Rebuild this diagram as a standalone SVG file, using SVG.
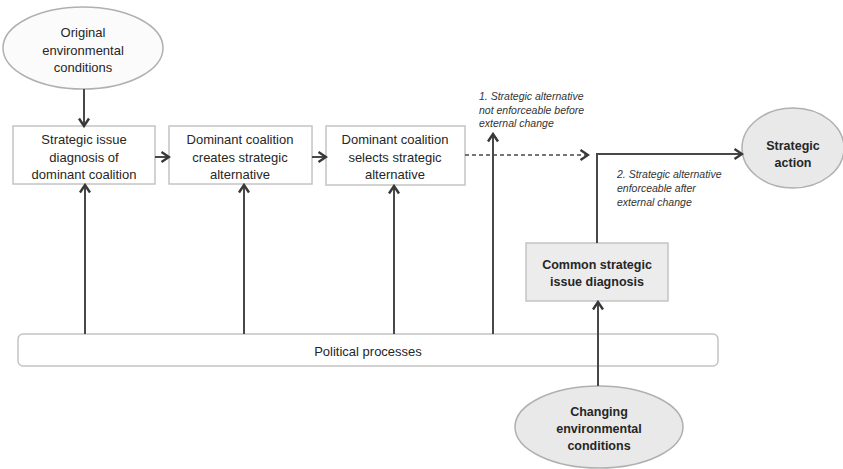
<svg xmlns="http://www.w3.org/2000/svg" width="843" height="469" viewBox="0 0 843 469">
  <style>
    .box { fill: #ffffff; stroke: #c4c4c4; stroke-width: 1.5; }
    .shade { fill: #ececec; stroke: #c4c4c4; stroke-width: 1.5; }
    .oval { fill: #fbfbfb; stroke: #b0b0b0; stroke-width: 1.5; }
    .oval-dark { fill: #e9e9e9; stroke: #b0b0b0; stroke-width: 1.5; }
    .lbl { font-family: "Liberation Sans", Arial, sans-serif; font-size: 13px; fill: #262626; text-anchor: middle; }
    .bold { font-weight: bold; font-size: 12.5px; }
    .note { font-family: "Liberation Sans", Arial, sans-serif; font-size: 10.5px; font-style: italic; fill: #333333; }
    .wire { fill: none; stroke: #484848; stroke-width: 2; }
    .dash { stroke-dasharray: 4 3; stroke-width: 1.5; }
  </style>
  <defs>
    <marker id="chev" viewBox="0 0 12 12" refX="10" refY="6" markerWidth="12" markerHeight="12" markerUnits="userSpaceOnUse" orient="auto">
      <path d="M2.5,1 L10,6 L2.5,11" fill="none" stroke="#383838" stroke-width="2.4" stroke-linejoin="miter"/>
    </marker>
  </defs>

  <rect width="843" height="469" fill="#ffffff"/>

  <g id="original-conditions">
    <ellipse class="oval" cx="83" cy="48" rx="80" ry="41"/>
    <text class="lbl" x="83" y="37">Original</text>
    <text class="lbl" x="83" y="55">environmental</text>
    <text class="lbl" x="83" y="72">conditions</text>
  </g>

  <g id="issue-diagnosis">
    <rect class="box" x="13" y="126" width="142" height="58"/>
    <text class="lbl" x="84" y="144">Strategic issue</text>
    <text class="lbl" x="84" y="162">diagnosis of</text>
    <text class="lbl" x="84" y="179">dominant coalition</text>
  </g>

  <g id="creates-alternative">
    <rect class="box" x="169" y="126" width="143" height="58"/>
    <text class="lbl" x="240" y="144">Dominant coalition</text>
    <text class="lbl" x="240" y="162">creates strategic</text>
    <text class="lbl" x="240" y="179">alternative</text>
  </g>

  <g id="selects-alternative">
    <rect class="box" x="326" y="126" width="139" height="59"/>
    <text class="lbl" x="395" y="144">Dominant coalition</text>
    <text class="lbl" x="395" y="162">selects strategic</text>
    <text class="lbl" x="395" y="179">alternative</text>
  </g>

  <g id="note-not-enforceable">
    <text class="note" x="479" y="100">1. Strategic alternative</text>
    <text class="note" x="479" y="114">not enforceable before</text>
    <text class="note" x="479" y="127">external change</text>
  </g>

  <g id="note-enforceable">
    <text class="note" x="617" y="178">2. Strategic alternative</text>
    <text class="note" x="617" y="192">enforceable after</text>
    <text class="note" x="617" y="206">external change</text>
  </g>

  <g id="strategic-action">
    <ellipse class="oval-dark" cx="793" cy="148" rx="51" ry="40"/>
    <text class="lbl bold" x="793" y="150">Strategic</text>
    <text class="lbl bold" x="793" y="167">action</text>
  </g>

  <g id="common-diagnosis">
    <rect class="shade" x="526" y="243" width="142" height="58"/>
    <text class="lbl bold" x="597" y="269">Common strategic</text>
    <text class="lbl bold" x="597" y="286">issue diagnosis</text>
  </g>

  <g id="political-processes">
    <rect class="box" x="18" y="334" width="700" height="32" rx="5" ry="5"/>
    <text class="lbl" x="368" y="356">Political processes</text>
  </g>

  <g id="changing-conditions">
    <ellipse class="oval-dark" cx="599" cy="427" rx="84" ry="41"/>
    <text class="lbl bold" x="599" y="416">Changing</text>
    <text class="lbl bold" x="599" y="433">environmental</text>
    <text class="lbl bold" x="599" y="450">conditions</text>
  </g>

  <!-- connectors, drawn last so the rising line crosses the political-processes bar -->
  <g id="connectors">
    <line class="wire" x1="84" y1="89" x2="84" y2="126" marker-end="url(#chev)"/>
    <line class="wire" x1="155" y1="157" x2="169" y2="157" marker-end="url(#chev)"/>
    <line class="wire" x1="312" y1="157" x2="326" y2="157" marker-end="url(#chev)"/>
    <line class="wire dash" x1="465" y1="155" x2="588" y2="155" marker-end="url(#chev)"/>
    <line class="wire" x1="85" y1="334" x2="85" y2="185" marker-end="url(#chev)"/>
    <line class="wire" x1="244" y1="334" x2="244" y2="185" marker-end="url(#chev)"/>
    <line class="wire" x1="394" y1="334" x2="394" y2="186" marker-end="url(#chev)"/>
    <line class="wire" x1="493" y1="334" x2="493" y2="134" marker-end="url(#chev)"/>
    <polyline class="wire" points="597,243 597,154 742,154" marker-end="url(#chev)"/>
    <line class="wire" x1="598" y1="386" x2="598" y2="302" marker-end="url(#chev)"/>
  </g>
</svg>
